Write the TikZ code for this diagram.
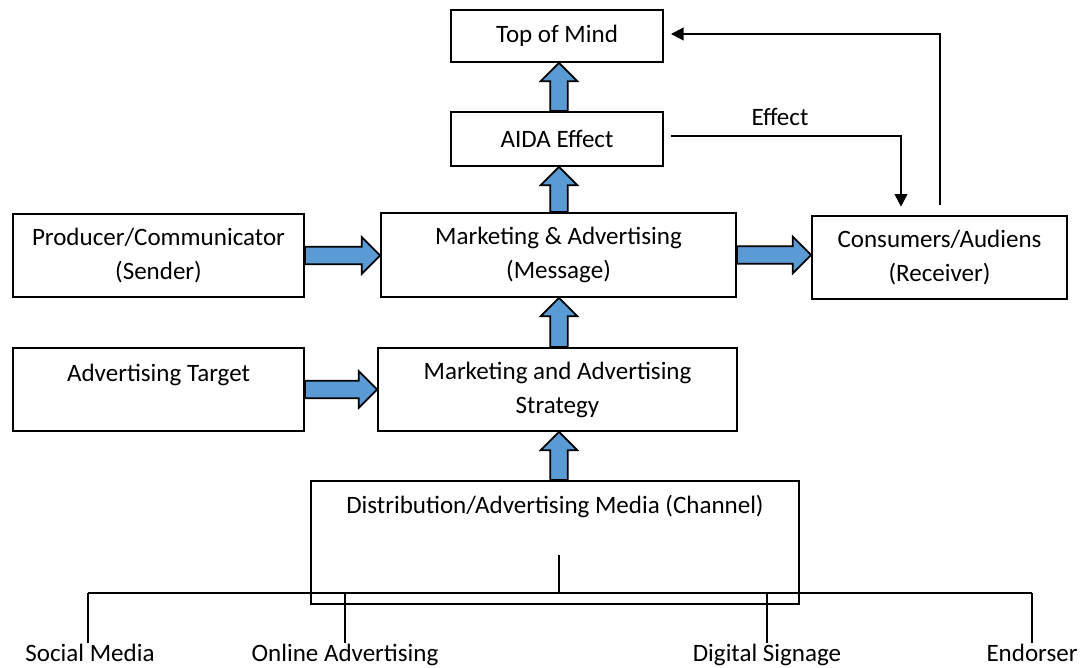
\documentclass[tikz,border=0pt]{standalone}
\usepackage{fontspec}
\setmainfont{Carlito}
\usetikzlibrary{calc,arrows.meta}
\definecolor{arrowblue}{RGB}{91,155,213}
\newcommand\pu{0.025cm}
\tikzset{
  txt/.style={font=\fontsize{17.8pt}{24.2pt}\selectfont},
  box/.style={txt, draw, line width=1.3pt, align=center, inner sep=0pt},
  conn/.style={line width=1.4pt},
  tip/.style={-{Triangle[length=9pt,width=9pt]}},
  barrow/.style={draw, fill=arrowblue, line width=1.3pt, line join=miter},
  lbl/.style={txt, inner sep=0pt, anchor=base},
}
% horizontal block arrow from the east side of #1 to the west side of #2
\newcommand\rightblock[2]{%
  \draw[barrow] let \p1=(#1.east), \p2=(#2.west) in
    (\x1,\y1+6.2pt) -- (\x2-13pt,\y1+6.2pt) -- (\x2-13pt,\y1+13pt) -- (\x2,\y1)
    -- (\x2-13pt,\y1-13pt) -- (\x2-13pt,\y1-6.2pt) -- (\x1,\y1-6.2pt) -- cycle;}
% vertical block arrow from the top of #1 to the bottom of #2, on the main axis
\newcommand\upblock[2]{%
  \draw[barrow] let \p1=(#1.north), \p2=(#2.south), \p3=(axis) in
    (\x3-6.2pt,\y1) -- (\x3-6.2pt,\y2-13pt) -- (\x3-13pt,\y2-13pt) -- (\x3,\y2)
    -- (\x3+13pt,\y2-13pt) -- (\x3+6.2pt,\y2-13pt) -- (\x3+6.2pt,\y1) -- cycle;}

\begin{document}
\begin{tikzpicture}[x=0.025cm, y=-0.025cm]
\useasboundingbox (0,0) rectangle (1091,667);
\coordinate (axis) at (559,0);

% boxes
\node[box, minimum width=212*\pu, minimum height=52*\pu] (mind) at (557,36) {Top of Mind};
\node[box, minimum width=212*\pu, minimum height=54*\pu] (aida) at (557,139) {AIDA Effect};
\node[box, minimum width=291*\pu, minimum height=83*\pu] (sender) at (158.5,255.5)
  {Producer/Communicator\\(Sender)};
\node[box, minimum width=355*\pu, minimum height=84*\pu] (msg) at (558.5,255)
  {Marketing \& Advertising\\(Message)};
\node[box, minimum width=255*\pu, minimum height=83*\pu] (recv) at (939.5,257.5)
  {Consumers/Audiens\\(Receiver)};
\node[box, minimum width=291*\pu, text height=33*\pu, text depth=50*\pu] (target) at (158.5,389.5)
  {Advertising Target};
\node[box, minimum width=359*\pu, minimum height=83*\pu] (strat) at (557.5,389.5)
  {Marketing and Advertising\\Strategy};
\node[box, minimum width=488*\pu, text height=32*\pu, text depth=91*\pu] (dist) at (555,542.5)
  {Distribution/Advertising Media (Channel)};

% block arrows
\rightblock{sender}{msg}
\rightblock{msg}{recv}
\rightblock{target}{strat}
\upblock{dist}{strat}
\upblock{strat}{msg}
\upblock{msg}{aida}
\upblock{aida}{mind}

% effect on the receiver
\coordinate (ebend) at (901,136);
\draw[conn, tip, shorten <=5pt, shorten >=6pt] (aida.east |- 0,136) -- (ebend) -- (ebend |- recv.north);
\node[lbl] (efflbl) at (780,125) {Effect};

% feedback to top of mind
\coordinate (fstart) at (940,205);
\coordinate (fbend) at (940,34);
\draw[conn, tip, shorten >=5pt] (fstart) -- (fbend) -- (fbend -| mind.east);

% media channels
\coordinate (stub) at (559,555);
\coordinate (hub) at (559,593);
\coordinate (busL) at (88,593);
\coordinate (busR) at (1032,593);
\node[lbl] (social) at (90,661) {Social Media};
\node[lbl] (online) at (345,661) {Online Advertising};
\node[lbl] (signage) at (767,661) {Digital Signage};
\node[lbl] (endorser) at (1032,661) {Endorser};
\draw[conn] (busL) -- (busR);
\draw[conn] (stub) -- (hub);
\draw[conn] (busL) -- (busL |- social.north);
\draw[conn] (online |- busL) -- (online.north);
\draw[conn] (signage |- busL) -- (signage.north);
\draw[conn] (busR) -- (busR |- endorser.north);
\end{tikzpicture}
\end{document}
